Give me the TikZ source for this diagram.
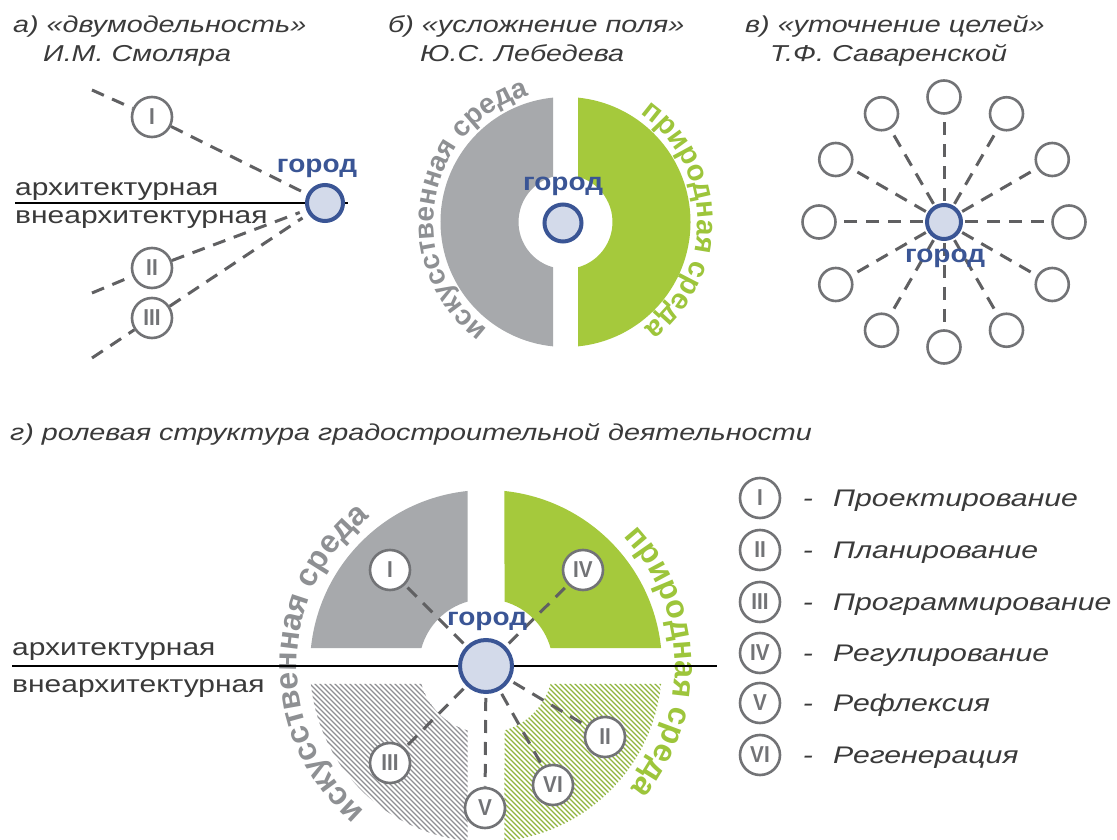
\documentclass[tikz,border=0pt]{standalone}
\usepackage{fontspec}
\setmainfont{Liberation Sans}[FakeStretch=1.25]
\newfontfamily\arcfont{Liberation Sans}
\newfontfamily\numfont{Liberation Sans}[FakeStretch=0.9]
\newfontfamily\cityfont{Liberation Sans}[FakeStretch=1.12]
\newfontfamily\legfont{Liberation Sans}[FakeStretch=1.26]
\usetikzlibrary{decorations.text,calc}
\definecolor{txt}{HTML}{3A3A3A}
\definecolor{cityblue}{HTML}{3A5595}
\definecolor{cityfill}{HTML}{D3DAEA}
\definecolor{fillgray}{HTML}{A7A9AC}
\definecolor{fillgreen}{HTML}{A5C93C}
\definecolor{arcgray}{HTML}{8E9093}
\definecolor{arcgreen}{HTML}{9DC53B}
\definecolor{ringgray}{HTML}{727376}
\definecolor{dashgray}{HTML}{606062}
\definecolor{hatchgray}{HTML}{8E8F92}
\definecolor{hatchgreen}{HTML}{8FB43C}
\begin{document}
\begin{tikzpicture}[x=1pt,y=1pt,
  title/.style={anchor=base west, inner sep=0pt, text=txt, font=\fontsize{23}{27}\selectfont\itshape},
  lbl/.style={anchor=base west, inner sep=0pt, text=txt, font=\fontsize{24}{28}\selectfont},
  leg/.style={anchor=base west, inner sep=0pt, text=txt, font=\legfont\fontsize{24}{28}\selectfont\itshape},
  citylbl/.style={inner sep=0pt, text=cityblue, font=\cityfont\bfseries\fontsize{25}{28}\selectfont},
  city/.style={circle, draw=cityblue, line width=4pt, fill=cityfill, inner sep=0pt},
  role/.style={circle, draw=ringgray, line width=2.6pt, fill=white, minimum size=40pt, inner sep=0pt, text=ringgray, font=\numfont\bfseries\fontsize{23}{26}\selectfont},
  ring/.style={circle, draw=ringgray, line width=2.6pt, fill=white, minimum size=33pt, inner sep=0pt},
  link/.style={draw=dashgray, line width=3pt, dash pattern=on 13pt off 9pt},
  rule/.style={draw=black, line width=1.8pt},
]
\useasboundingbox (0,0) rectangle (1117,839);
\fill[white] (0,0) rectangle (1117,839);

% ---------- titles ----------
\node[title] (ta1) at (13,806) {а) «двумодельность»};
\node[title] (ta2) at (43,777) {И.М. Смоляра};
\node[title] (tb1) at (388,806) {б) «усложнение поля»};
\node[title] (tb2) at (420,777) {Ю.С. Лебедева};
\node[title] (tc1) at (745,806) {в) «уточнение целей»};
\node[title] (tc2) at (770,777) {Т.Ф. Саваренской};
\node[title] (td) at (10,398) {г) ролевая структура градостроительной деятельности};

% ---------- panel a ----------
\coordinate (aL) at (15,636);
\coordinate (aR) at (348,636);
\draw[rule] (aL) -- (aR);
\node[lbl] (aarch) at (15,643) {архитектурная};
\node[lbl] (anon) at (15,615) {внеархитектурная};
\node[city, minimum size=36pt] (acity) at (325,636) {};
\node[role] (aI) at (152,722) {I};
\node[role] (aII) at (152,571) {II};
\node[role] (aIII) at (152,521) {III};
\coordinate (a1s) at (92,749);
\coordinate (a2s) at (92,546);
\coordinate (a3s) at (92,481);
\draw[link] (a1s) -- (aI) -- (acity);
\draw[link, shorten >=7pt] (a2s) -- (aII) -- (acity);
\draw[link, shorten >=7pt] (a3s) -- (aIII) -- (acity);
\node[citylbl] (acl) at (317,671) {город};

% ---------- panel b ----------
\coordinate (bc) at (565.5,617);
\fill[fillgray] ($(bc)+(95.74:125)$) arc[start angle=95.74,end angle=264.26,radius=125]
  -- ($(bc)+(254.58:47)$) arc[start angle=254.58,end angle=105.42,radius=47] -- cycle;
\fill[fillgreen] ($(bc)+(-84.26:125)$) arc[start angle=-84.26,end angle=84.26,radius=125]
  -- ($(bc)+(74.58:47)$) arc[start angle=74.58,end angle=-74.58,radius=47] -- cycle;
\path[decorate, decoration={text along path, text align=center, text color=arcgray,
  text={|\arcfont\bfseries\fontsize{28}{31}\selectfont|искусственная среда}}]
  ($(bc)+(250:132)$) arc[start angle=250,end angle=90,radius=132];
\path[decorate, decoration={text along path, text align=center, text color=arcgreen,
  text={|\arcfont\bfseries\fontsize{29}{32}\selectfont|природная среда}}]
  ($(bc)+(82:132)$) arc[start angle=82,end angle=-80,radius=132];
\node[city, minimum size=37pt] (bcity) at (563,616) {};
\node[citylbl] (bcl) at (563,653) {город};

% ---------- panel c ----------
\coordinate (cc) at (944,617);
\node[city, minimum size=34pt] (ccity) at (cc) {};
\foreach \a [count=\i] in {0,30,...,330} {
  \node[ring] (co\i) at ($(cc)+(\a:125)$) {};
  \draw[link, shorten <=2pt] (ccity) -- (co\i);
}
\node[citylbl] (ccl) at (945,581) {город};

% ---------- panel d ----------
\coordinate (dc) at (486,173);
\fill[fillgray] ($(dc)+(96.03:176)$) arc[start angle=96.03,end angle=174.13,radius=176]
  -- ($(dc)+(164.42:67)$) arc[start angle=164.42,end angle=106.03,radius=67] -- cycle;
\fill[fillgreen] ($(dc)+(5.87:176)$) arc[start angle=5.87,end angle=83.97,radius=176]
  -- ($(dc)+(73.97:67)$) arc[start angle=73.97,end angle=15.58,radius=67] -- cycle;
\begin{scope}
  \clip ($(dc)+(185.87:176)$) arc[start angle=185.87,end angle=263.97,radius=176]
    -- ($(dc)+(253.97:67)$) arc[start angle=253.97,end angle=195.58,radius=67] -- cycle;
  \foreach \k in {120,125,...,460} \draw[hatchgray, line width=1.4pt] (\k,180) -- ++(220,-220);
\end{scope}
\begin{scope}
  \clip ($(dc)+(276.03:176)$) arc[start angle=276.03,end angle=354.13,radius=176]
    -- ($(dc)+(344.42:67)$) arc[start angle=344.42,end angle=286.03,radius=67] -- cycle;
  \foreach \k in {320,325,...,650} \draw[hatchgreen, line width=1.4pt] (\k,180) -- ++(220,-220);
\end{scope}
\path[decorate, decoration={text along path, text align=center, text color=arcgray,
  text={|\arcfont\bfseries\fontsize{32}{35}\selectfont|искусственная среда}}]
  ($(dc)+(259:189)$) arc[start angle=259,end angle=99,radius=189];
\path[decorate, decoration={text along path, text align=center, text color=arcgreen,
  text={|\arcfont\bfseries\fontsize{32}{35}\selectfont|природная среда}}]
  ($(dc)+(81.5:189)$) arc[start angle=81.5,end angle=-78.5,radius=189];
\coordinate (dL) at (12,173);
\coordinate (dR) at (717,173);
\draw[rule] (dL) -- (dR);
\node[lbl] (darch) at (12,184) {архитектурная};
\node[lbl] (dnon) at (12,147) {внеархитектурная};
\node[city, minimum size=52pt] (dcity) at (dc) {};
\node[role] (dI) at (390,269) {I};
\node[role] (dIV) at (583,269) {IV};
\node[role] (dIII) at (390,76) {III};
\node[role] (dV) at (485,31) {V};
\node[role] (dVI) at (553,54) {VI};
\node[role] (dII) at (605,102) {II};
\foreach \n in {dI,dIV,dIII,dV,dVI,dII} \draw[link, shorten <=4pt] (dcity) -- (\n);
\node[citylbl] (dcl) at (487,218) {город};

% ---------- legend ----------
\foreach \r/\y/\t [count=\i] in {I/341/Проектирование, II/289/Планирование, III/237/Программирование,
    IV/186/Регулирование, V/136/Рефлексия, VI/84/Регенерация} {
  \node[role] (lr\i) at (760,\y) {\r};
  \node[leg, anchor=base] (ld\i) at (808,\y-8.5) {-};
  \node[leg] (lt\i) at (833,\y-8.5) {\t};
}
\end{tikzpicture}
\end{document}
